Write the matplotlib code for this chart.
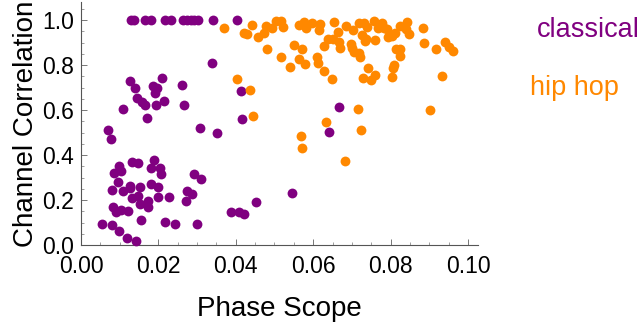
import matplotlib.pyplot as plt
from matplotlib.ticker import MultipleLocator

plt.rcParams['font.family'] = ['Liberation Sans', 'DejaVu Sans']

# phase scope / channel correlation per track
classical_x = [0.0129, 0.0138, 0.0165, 0.0181, 0.0217, 0.0233, 0.0264, 0.0273, 0.0283, 0.0292,
               0.0303, 0.0342, 0.0402,
               0.0338, 0.0127, 0.0140, 0.0208, 0.0185, 0.0197, 0.0191, 0.0260, 0.0413, 0.0144,
               0.0157, 0.0165, 0.0215, 0.0193, 0.0267, 0.0109, 0.0170, 0.0417, 0.0071, 0.0307,
               0.0078, 0.0351,
               0.0131, 0.0146, 0.0189, 0.0098, 0.0103, 0.0086, 0.0181, 0.0204, 0.0206, 0.0293,
               0.0310, 0.0095, 0.0127, 0.0152, 0.0180, 0.0198, 0.0079, 0.0108, 0.0127, 0.0147,
               0.0131, 0.0174, 0.0200, 0.0227, 0.0273, 0.0288, 0.0271, 0.0082, 0.0090, 0.0103,
               0.0121, 0.0152, 0.0172, 0.0155, 0.0217, 0.0243, 0.0299, 0.0055, 0.0079, 0.0098,
               0.0118, 0.0142, 0.0387, 0.0408, 0.0422, 0.0451,
               0.0641, 0.0546, 0.0667]
classical_y = [1.0, 1.0, 1.0, 1.0, 1.0, 1.0, 1.0, 1.0, 1.0, 1.0,
               1.0, 1.0, 1.0,
               0.810, 0.729, 0.700, 0.741, 0.708, 0.696, 0.677, 0.711, 0.684, 0.652,
               0.637, 0.622, 0.641, 0.621, 0.622, 0.604, 0.564, 0.561, 0.511, 0.519,
               0.471, 0.496,
               0.367, 0.363, 0.378, 0.351, 0.330, 0.319, 0.341, 0.341, 0.314, 0.316,
               0.292, 0.281, 0.264, 0.259, 0.270, 0.259, 0.244, 0.240, 0.252, 0.219,
               0.207, 0.197, 0.212, 0.215, 0.240, 0.227, 0.196, 0.170, 0.145, 0.156,
               0.151, 0.181, 0.167, 0.111, 0.101, 0.092, 0.092, 0.093, 0.089, 0.062,
               0.032, 0.018, 0.145, 0.148, 0.139, 0.193,
               0.504, 0.230, 0.612]

hiphop_x = [0.0370, 0.0443, 0.0422, 0.0428, 0.0458, 0.0473, 0.0477, 0.0494, 0.0504, 0.0517,
            0.0523, 0.0481, 0.0516, 0.0540, 0.0550, 0.0404, 0.0437, 0.0445,
            0.0564, 0.0575, 0.0581, 0.0596, 0.0618, 0.0615, 0.0655, 0.0685, 0.0663, 0.0639,
            0.0652, 0.0667, 0.0627, 0.0669, 0.0572, 0.0564, 0.0579, 0.0609, 0.0612, 0.0627,
            0.0648,
            0.0704, 0.0718, 0.0731, 0.0738, 0.0758, 0.0768, 0.0777, 0.0784, 0.0792, 0.0824,
            0.0842, 0.0840, 0.0848, 0.0885, 0.0727, 0.0736, 0.0734, 0.0760, 0.0794, 0.0803,
            0.0811, 0.0698, 0.0701, 0.0706, 0.0718, 0.0721, 0.0813, 0.0824, 0.0824, 0.0887,
            0.0917, 0.0941, 0.0951, 0.0962, 0.0809, 0.0807, 0.0803, 0.0742, 0.0728, 0.0749,
            0.0760, 0.0934,
            0.0568, 0.0571, 0.0724, 0.0683, 0.0632, 0.0717, 0.0902]
hiphop_y = [0.967, 0.978, 0.941, 0.936, 0.923, 0.941, 0.973, 0.967, 0.996, 0.996,
            0.970, 0.870, 0.837, 0.793, 0.889, 0.738, 0.689, 0.575,
            0.978, 0.993, 0.967, 0.988, 0.981, 0.956, 0.990, 0.973, 0.945, 0.916,
            0.918, 0.904, 0.886, 0.874, 0.870, 0.825, 0.804, 0.837, 0.810, 0.773,
            0.738,
            0.956, 0.988, 0.988, 0.970, 0.996, 0.963, 0.988, 0.963, 0.960, 0.975,
            0.993, 0.960, 0.938, 0.963, 0.933, 0.918, 0.907, 0.911, 0.926, 0.930,
            0.941, 0.892, 0.874, 0.856, 0.852, 0.834, 0.870, 0.871, 0.841, 0.896,
            0.870, 0.904, 0.881, 0.864, 0.800, 0.785, 0.748, 0.788, 0.741, 0.733,
            0.756, 0.751,
            0.486, 0.433, 0.510, 0.375, 0.545, 0.604, 0.599]

purple = '#800080'
orange = '#ff8800'

fig = plt.figure(figsize=(6.4, 3.23), dpi=100)
ax = fig.add_axes([0.1266, 0.2415, 0.6203, 0.752])

ax.scatter(classical_x, classical_y, s=50, color=purple, linewidths=0, zorder=3, clip_on=False)
ax.scatter(hiphop_x, hiphop_y, s=50, color=orange, linewidths=0, zorder=3, clip_on=False)

ax.set_xlim(0, 0.1026)
ax.set_ylim(0, 1.08)
ax.xaxis.set_major_locator(MultipleLocator(0.02))
ax.xaxis.set_minor_locator(MultipleLocator(0.005))
ax.yaxis.set_major_locator(MultipleLocator(0.2))
ax.yaxis.set_minor_locator(MultipleLocator(0.05))
ax.xaxis.set_major_formatter(plt.FormatStrFormatter('%.2f'))
ax.yaxis.set_major_formatter(plt.FormatStrFormatter('%.1f'))

ax.spines['top'].set_visible(False)
ax.spines['right'].set_visible(False)
for s in ('left', 'bottom'):
    ax.spines[s].set_color('#555555')
    ax.spines[s].set_linewidth(0.8)
ax.tick_params(which='both', direction='in', color='#777777', labelsize=16.5)
ax.tick_params(which='major', length=4.5, width=0.7)
ax.tick_params(which='minor', length=2.5, width=0.5)
ax.tick_params(axis='y', pad=5)
ax.tick_params(axis='x', pad=7)

ax.set_xlabel('Phase Scope', fontsize=20, labelpad=13)
ax.set_ylabel('Channel Correlation', fontsize=20, labelpad=2)

fig.text(537 / 640, 1 - 30 / 323, 'classical', color=purple, fontsize=19.5, va='center')
fig.text(530 / 640, 1 - 88 / 323, 'hip hop', color=orange, fontsize=19.5, va='center')

fig.savefig('out.png', dpi=100)
